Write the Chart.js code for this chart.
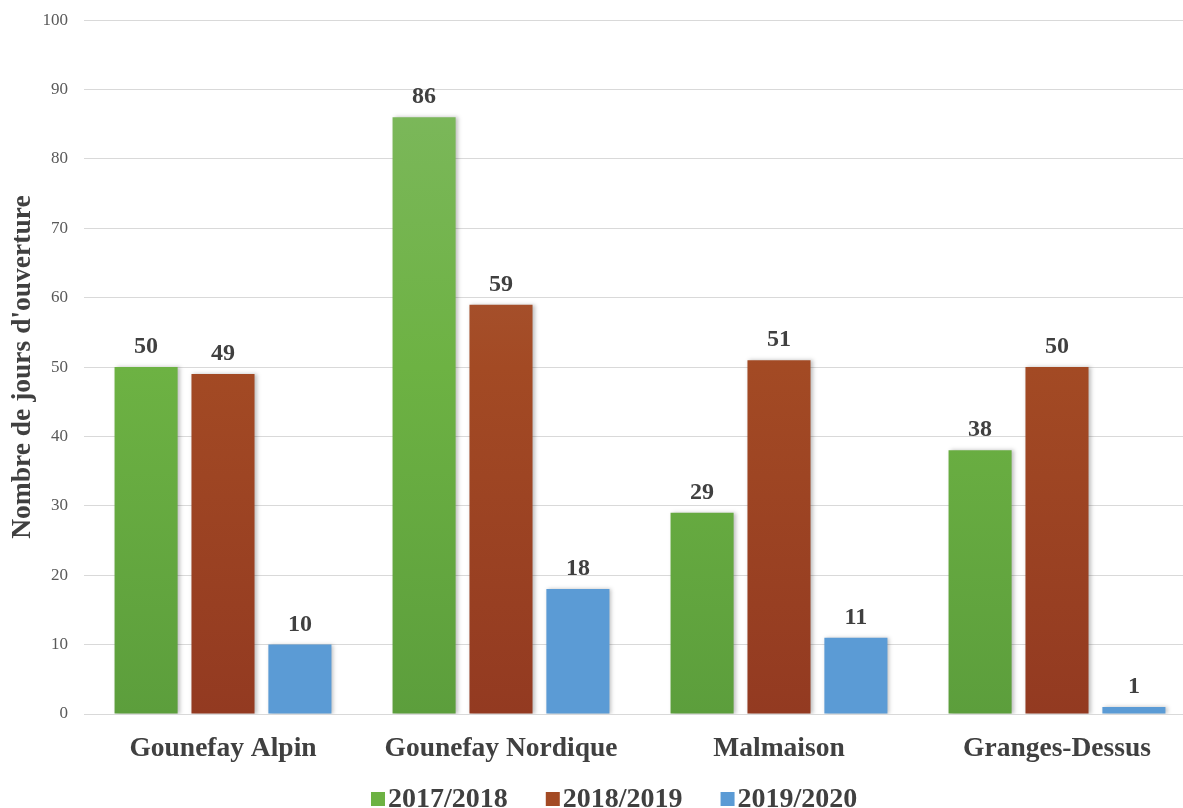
<!DOCTYPE html>
<html>
<head>
<meta charset="utf-8">
<script src="https://cdn.jsdelivr.net/npm/chart.js@4/dist/chart.umd.min.js"></script>
<style>
  html, body { margin: 0; padding: 0; background: #fff; overflow: hidden; }
  #wrap { width: 1183px; height: 808px; overflow: hidden; }
  #chart { display: block; margin-top: -6px; }
</style>
</head>
<body>
<div id="wrap"><canvas id="chart" width="1223" height="814"></canvas></div>
<script>
const stations = ['Gounefay Alpin', 'Gounefay Nordique', 'Malmaison', 'Granges-Dessus'];
const saison1718 = [50, 86, 29, 38];
const saison1819 = [49, 59, 51, 50];
const saison1920 = [10, 18, 11, 1];
const yTicks = [0, 10, 20, 30, 40, 50, 60, 70, 80, 90, 100];
const legendColors = ['#6db243', '#a34a24', '#5b9bd5'];

const serif = '"Liberation Serif", "Times New Roman", serif';

function gradient(top, mid, bottom) {
  return function (c) {
    const area = c.chart.chartArea;
    if (!area) return mid;
    const g = c.chart.ctx.createLinearGradient(0, area.top, 0, area.bottom);
    g.addColorStop(0, top);
    g.addColorStop(0.5, mid);
    g.addColorStop(1, bottom);
    return g;
  };
}

// shadow under the bars + value labels above them
const barExtras = {
  id: 'barExtras',
  beforeDatasetsDraw(chart) {
    const ctx = chart.ctx;
    ctx.save();
    ctx.shadowColor = 'rgba(0,0,0,0.25)';
    ctx.shadowBlur = 4;
    ctx.shadowOffsetX = 2;
    ctx.shadowOffsetY = 0;
  },
  afterDatasetsDraw(chart) {
    const ctx = chart.ctx;
    ctx.restore();
    ctx.save();
    ctx.font = 'bold 24px ' + serif;
    ctx.fillStyle = '#404040';
    ctx.textAlign = 'center';
    ctx.textBaseline = 'alphabetic';
    chart.data.datasets.forEach((ds, i) => {
      chart.getDatasetMeta(i).data.forEach((bar, j) => {
        ctx.fillText(ds.data[j], bar.x, bar.y - 14);
      });
    });
    ctx.restore();
  }
};

// legend drawn under the axis, small gap between box and text
const bottomLegend = {
  id: 'bottomLegend',
  afterDraw(chart) {
    const ctx = chart.ctx;
    const box = 14, gapText = 3, gapItem = 38, cy = 805;
    ctx.save();
    ctx.font = 'bold 28px ' + serif;
    let x = 371;
    ctx.textBaseline = 'middle';
    ctx.textAlign = 'left';
    chart.data.datasets.forEach((ds, i) => {
      const w = ctx.measureText(ds.label).width;
      ctx.fillStyle = legendColors[i];
      ctx.fillRect(x, cy - box / 2, box, box);
      ctx.fillStyle = '#404040';
      ctx.fillText(ds.label, x + box + gapText, cy + 1);
      x += box + gapText + w + gapItem;
    });
    ctx.restore();
  }
};

new Chart(document.getElementById('chart'), {
  type: 'bar',
  data: {
    labels: stations,
    datasets: [
      { label: '2017/2018', data: saison1718,
        backgroundColor: gradient('#80b962', '#6db243', '#5c9e3c') },
      { label: '2018/2019', data: saison1819,
        backgroundColor: gradient('#ad6446', '#a34a24', '#933a21') },
      { label: '2019/2020', data: saison1920, backgroundColor: '#5b9bd5' }
    ]
  },
  options: {
    responsive: false,
    animation: false,
    layout: { padding: { top: 0, right: 27, left: 0, bottom: 26 } },
    datasets: { bar: { categoryPercentage: 0.83, barPercentage: 0.82 } },
    plugins: {
      legend: { display: false },
      tooltip: { enabled: false }
    },
    scales: {
      x: {
        grid: { display: false },
        border: { color: '#d9d9d9', width: 1 },
        afterFit(scale) { scale.height = 68; },
        ticks: {
          font: { family: serif, size: 27.5, weight: 'bold' },
          color: '#404040',
          padding: 10
        }
      },
      y: {
        min: 0,
        max: 100,
        afterBuildTicks(scale) { scale.ticks = yTicks.map(v => ({ value: v })); },
        afterFit(scale) { scale.width = 84; },
        grid: { color: '#d9d9d9', drawTicks: false },
        border: { display: false },
        ticks: {
          font: { family: serif, size: 17 },
          color: '#595959',
          padding: 16
        },
        title: {
          display: true,
          text: "Nombre de jours d'ouverture",
          font: { family: serif, size: 27.5, weight: 'bold' },
          color: '#404040',
          padding: { top: 6, bottom: 0 }
        }
      }
    }
  },
  plugins: [barExtras, bottomLegend]
});
</script>
</body>
</html>
